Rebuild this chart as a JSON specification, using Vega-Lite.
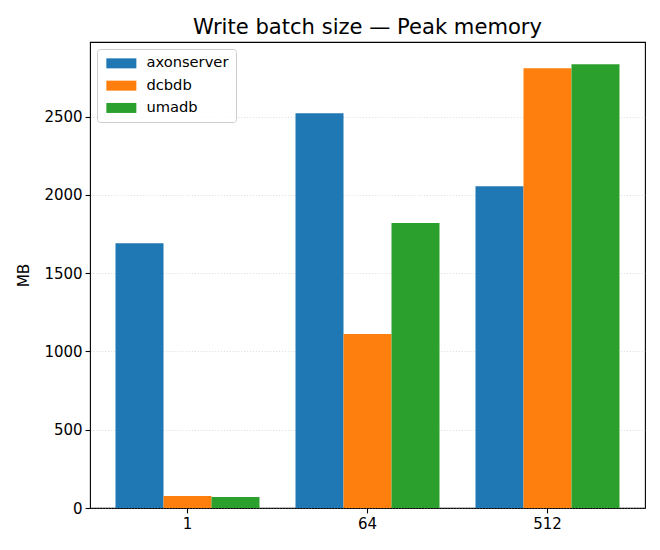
{
  "$schema": "https://vega.github.io/schema/vega-lite/v6.json",
  "autosize": {"type": "none"},
  "padding": {"left": 90, "top": 42, "right": 15, "bottom": 42},
  "width": 555,
  "height": 466,
  "background": "white",
  "title": {
    "text": "Write batch size — Peak memory",
    "font": "DejaVu Sans",
    "fontSize": 21.1,
    "fontWeight": "normal",
    "color": "black",
    "offset": 4
  },
  "data": {
    "values": [
      {"batch": "1", "db": "axonserver", "mb": 1692},
      {"batch": "1", "db": "dcbdb", "mb": 77},
      {"batch": "1", "db": "umadb", "mb": 70},
      {"batch": "64", "db": "axonserver", "mb": 2522},
      {"batch": "64", "db": "dcbdb", "mb": 1111},
      {"batch": "64", "db": "umadb", "mb": 1820},
      {"batch": "512", "db": "axonserver", "mb": 2056},
      {"batch": "512", "db": "dcbdb", "mb": 2810},
      {"batch": "512", "db": "umadb", "mb": 2835}
    ]
  },
  "mark": {"type": "bar"},
  "encoding": {
    "x": {
      "field": "batch",
      "type": "nominal",
      "sort": ["1", "64", "512"],
      "scale": {"paddingInner": 0.2, "paddingOuter": 0.1417},
      "axis": {"title": null, "labelAngle": 0, "labelPadding": 4}
    },
    "xOffset": {
      "field": "db",
      "type": "nominal",
      "sort": ["axonserver", "dcbdb", "umadb"],
      "scale": {"paddingInner": 0, "paddingOuter": 0}
    },
    "y": {
      "field": "mb",
      "type": "quantitative",
      "scale": {"domain": [0, 2977], "nice": false},
      "axis": {"title": "MB", "format": "d", "values": [0, 500, 1000, 1500, 2000, 2500], "grid": true}
    },
    "color": {
      "field": "db",
      "type": "nominal",
      "sort": ["axonserver", "dcbdb", "umadb"],
      "scale": {"domain": ["axonserver", "dcbdb", "umadb"], "range": ["#1f77b4", "#ff7f0e", "#2ca02c"]},
      "legend": {
        "title": null,
        "orient": "none",
        "legendX": 7,
        "legendY": 7,
        "symbolType": "M-1,-1L5,-1L5,1L-1,1Z",
        "symbolSize": 100,
        "symbolStrokeWidth": 0,
        "symbolOpacity": 1,
        "labelFont": "DejaVu Sans",
        "labelFontSize": 14.7,
        "labelColor": "black",
        "labelOffset": 27.7,
        "rowPadding": 6.3,
        "padding": 7,
        "strokeColor": "#cccccc",
        "fillColor": "rgba(255,255,255,0.8)",
        "cornerRadius": 3
      }
    }
  },
  "config": {
    "view": {"stroke": "black", "strokeWidth": 1.1},
    "axis": {
      "domain": false,
      "labelFont": "DejaVu Sans",
      "labelFontSize": 15,
      "labelColor": "black",
      "titleFont": "DejaVu Sans",
      "titleFontSize": 15.3,
      "titleFontWeight": "normal",
      "titleColor": "black",
      "tickColor": "black",
      "tickSize": 4.9,
      "tickWidth": 1.1,
      "labelPadding": 3,
      "gridColor": "#b0b0b0",
      "gridOpacity": 0.5,
      "gridDash": [1.1, 1.8],
      "gridWidth": 0.8
    },
    "axisX": {"grid": false},
    "axisY": {"titlePadding": 12}
  }
}
